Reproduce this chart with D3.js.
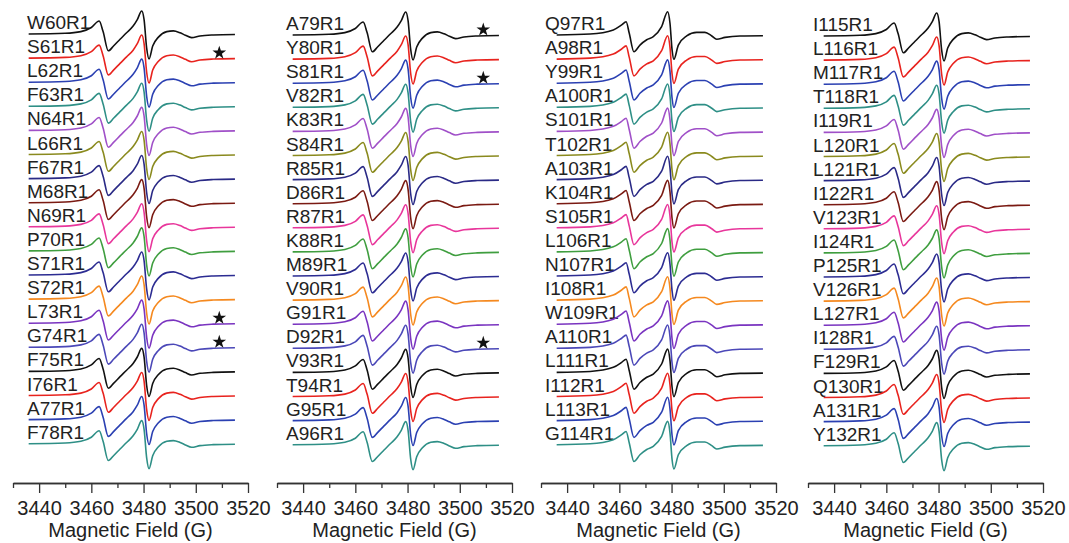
<!DOCTYPE html>
<html>
<head>
<meta charset="utf-8">
<script src="https://cdn.jsdelivr.net/npm/d3@7"></script>
<style>
  body { margin: 0; background: #fff; }
  svg { display: block; }
  .label { font-family: "Liberation Sans", Arial, sans-serif; font-size: 19px; fill: #222; }
  .axis text { font-family: "Liberation Sans", Arial, sans-serif; font-size: 20px; fill: #222; }
  .axis path, .axis line { stroke: #333; stroke-width: 1.3; }
  .title { font-family: "Liberation Sans", Arial, sans-serif; font-size: 20px; fill: #222; }
  .trace { fill: none; stroke-width: 1.6; }
</style>
</head>
<body>
<div id="chart"></div>
<script>
// sample labels per panel, top to bottom
var panel1 = ['W60R1','S61R1','L62R1','F63R1','N64R1','L66R1','F67R1','M68R1','N69R1',
  'P70R1','S71R1','S72R1','L73R1','G74R1','F75R1','I76R1','A77R1','F78R1'];
var panel2 = ['A79R1','Y80R1','S81R1','V82R1','K83R1','S84R1','R85R1','D86R1','R87R1',
  'K88R1','M89R1','V90R1','G91R1','D92R1','V93R1','T94R1','G95R1','A96R1'];
var panel3 = ['Q97R1','A98R1','Y99R1','A100R1','S101R1','T102R1','A103R1','K104R1','S105R1',
  'L106R1','N107R1','I108R1','W109R1','A110R1','L111R1','I112R1','L113R1','G114R1'];
var panel4 = ['I115R1','L116R1','M117R1','T118R1','I119R1','L120R1','L121R1','I122R1','V123R1',
  'I124R1','P125R1','V126R1','L127R1','I128R1','F129R1','Q130R1','A131R1','Y132R1'];

// spectra marked with a star
var starred = ['S61R1','L73R1','G74R1','A79R1','S81R1','D92R1'];

// line colours, repeated down each panel
var traceColors = ['#111111','#e8231e','#2b40b2','#2e8f86','#a050c8','#8a8a1e','#2a2a86',
  '#7a1a12','#e8369b','#3f9e3f','#2c2c92','#f5891f','#7a34c0','#4b48b8'];

// field (G) vs. normalised first-derivative signal
var broadShape = [
  [3436, 0], [3450, 0.03], [3456, 0.1], [3460, 0.27], [3463.0, 0.54], [3464.5, 0.1],
  [3466.5, -0.7], [3468.5, -0.5], [3471, -0.22], [3473.5, 0.05], [3476, 0.33],
  [3477.6, 0.6], [3479.3, 0.96], [3480.2, 0.6], [3481.2, -0.6], [3482.1, -1.04],
  [3483.5, -0.5], [3485.7, -0.13], [3488.9, 0.1], [3491.4, 0.13], [3494, 0.05],
  [3496, -0.05], [3498.4, -0.15], [3501.6, -0.08], [3506.7, -0.04], [3515, -0.02]
];
var sharpShape = [
  [3436, 0], [3448.8, 0.04], [3457.7, 0.21], [3460.9, 0.42], [3462.6, 0.55], [3463.8, 0.07],
  [3465.6, -0.7], [3467.9, -0.42], [3470.5, -0.2], [3473, -0.07], [3476.2, 0.35],
  [3478.5, 0.97], [3479.4, 0.49], [3480.2, -0.62], [3480.9, -1.01], [3482.6, -0.42],
  [3485.8, -0.04], [3489.6, 0.11], [3492.8, 0.11], [3495.4, -0.04], [3497.3, -0.18],
  [3500.5, -0.1], [3506.2, -0.04], [3515, -0.03]
];

var fieldDomain = [3430, 3520];
var majorTicks = [3440, 3460, 3480, 3500, 3520];
var minorTicks = [3430, 3450, 3470, 3490, 3510];

var panels = [
  { labels: panel1, shape: broadShape, x0: 13, top: 34, labelX: 27 },
  { labels: panel2, shape: broadShape, x0: 277, top: 35, labelX: 286 },
  { labels: panel3, shape: sharpShape, x0: 541, top: 35, labelX: 545 },
  { labels: panel4, shape: broadShape, x0: 808, top: 36, labelX: 813 }
];

var width = 1069, height = 543;
var axisY = 483;
var rowGap = 24.1;

var svg = d3.select('#chart').append('svg')
  .attr('width', width)
  .attr('height', height);

var amp = d3.scaleLinear().domain([-1, 1]).range([24, -24]);

panels.forEach(function(p) {
  var x = d3.scaleLinear().domain(fieldDomain).range([p.x0, p.x0 + 235]);
  var g = svg.append('g');

  var line = d3.line()
    .x(function(d) { return x(d[0]); })
    .y(function(d) { return amp(d[1]); })
    .curve(d3.curveMonotoneX);

  p.labels.forEach(function(name, i) {
    var base = p.top + i * rowGap;
    var row = g.append('g').attr('transform', 'translate(0,' + base + ')');

    row.append('text')
      .attr('class', 'label')
      .attr('x', p.labelX)
      .attr('y', -5)
      .text(name);

    row.append('path')
      .attr('class', 'trace')
      .attr('stroke', traceColors[i % traceColors.length])
      .attr('d', line(p.shape));

    if (starred.indexOf(name) >= 0) {
      row.append('path')
        .attr('d', d3.symbol().type(d3.symbolStar).size(58)())
        .attr('transform', 'translate(' + x(3509) + ',' + (amp(-0.03) - 6) + ')')
        .attr('fill', '#111');
    }
  });

  var minorAxis = d3.axisBottom(x).tickValues(minorTicks).tickSize(5)
    .tickSizeOuter(0).tickFormat('');
  var majorAxis = d3.axisBottom(x).tickValues(majorTicks).tickSize(10)
    .tickSizeOuter(0).tickPadding(8).tickFormat(d3.format('d'));

  g.append('g').attr('class', 'axis')
    .attr('transform', 'translate(0,' + axisY + ')')
    .call(minorAxis);
  g.append('g').attr('class', 'axis')
    .attr('transform', 'translate(0,' + axisY + ')')
    .call(majorAxis);

  g.append('text')
    .attr('class', 'title')
    .attr('x', x(3475))
    .attr('y', 537)
    .attr('text-anchor', 'middle')
    .text('Magnetic Field (G)');
});
</script>
</body>
</html>
